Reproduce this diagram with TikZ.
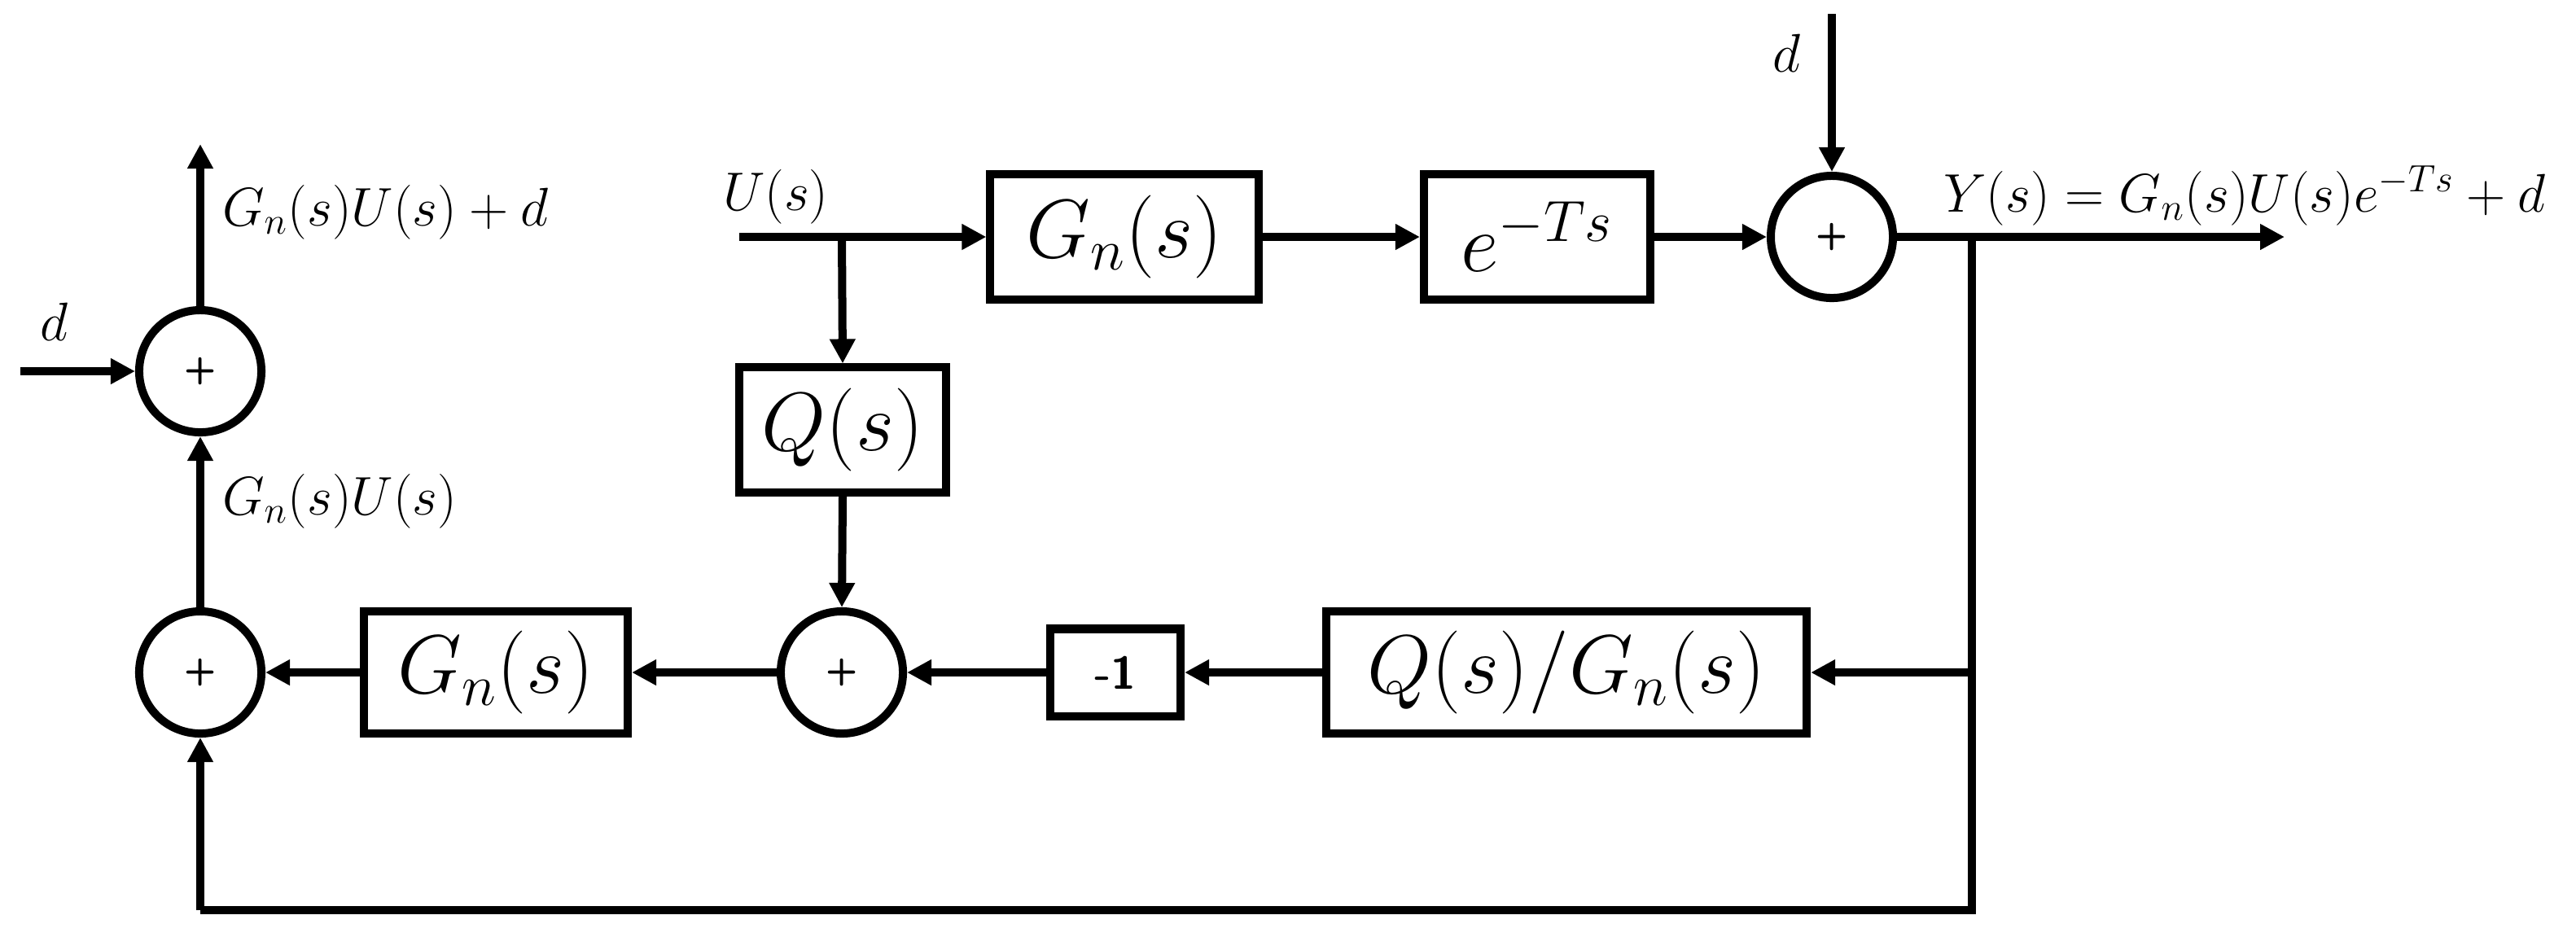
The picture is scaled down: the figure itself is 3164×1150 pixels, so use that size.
\RequirePackage{fix-cm}
\documentclass[tikz,border=0pt]{standalone}
\usetikzlibrary{arrows.meta}
\begin{document}
\begin{tikzpicture}[x=0.01cm,y=-0.01cm, line width=0.1cm,
  box/.style={draw, rectangle, inner sep=0pt, font=\fontsize{29}{34}\selectfont},
  sumnode/.style={draw, circle, minimum size=1.5cm, inner sep=0pt, font=\sffamily\bfseries\fontsize{13}{15}\selectfont},
  lbl/.style={inner sep=0pt, font=\fontsize{19}{23}\selectfont},
  sig/.style={-{Triangle[length=0.3cm,width=0.3cm]}}]
\useasboundingbox (0,0) rectangle (3164,1150);

% blocks
\node[box, minimum width=3.29cm, minimum height=1.53cm] (topG) at (1381,291) {$G_n(s)$};
\node[box, minimum width=2.78cm, minimum height=1.53cm] (eTs) at (1888,291) {$e^{-Ts}$};
\node[box, minimum width=2.53cm, minimum height=1.53cm] (Q) at (1035,528) {$Q(s)$};
\node[box, minimum width=3.24cm, minimum height=1.50cm] (botG) at (609,826) {$G_n(s)$};
\node[box, minimum width=1.60cm, minimum height=1.07cm, font=\sffamily\bfseries\fontsize{16}{18}\selectfont] (m1) at (1370,826) {-1};
\node[box, minimum width=5.90cm, minimum height=1.50cm] (QG) at (1924,826) {$Q(s)/G_n(s)$};

% summing junctions
\node[sumnode] (S1) at (246,456) {+};
\node[sumnode] (S2) at (246,826) {+};
\node[sumnode] (Sm) at (1034,826) {+};
\node[sumnode] (S3) at (2250,291) {+};

% labels
\node[lbl, anchor=base west] (lA) at (268,277) {$G_n(s)U(s)+d$};
\node[lbl, anchor=base west] (lB) at (268,632) {$G_n(s)U(s)$};
\node[lbl, anchor=base] (ld1) at (66,418) {$d$};
\node[lbl, anchor=base west] (ld2) at (2172,88) {$d$};
\node[lbl, anchor=base west] (lU) at (883,258) {$U(s)$};
\node[lbl, anchor=base west] (lY) at (2382,260) {$Y(s)=G_n(s)U(s)e^{-Ts}+d$};

% free ends and branch points
\coordinate (uin) at (908,291);
\coordinate (ubr) at (1034,291);
\coordinate (din) at (2250,17);
\coordinate (yout) at (2806,291);
\coordinate (ybr) at (2422,291);
\coordinate (yfb) at (2422,826);
\coordinate (ybot) at (2422,1118);
\coordinate (lbot) at (246,1118);
\coordinate (outL) at (246,177);
\coordinate (dinL) at (25,456);

% connectors
\draw[sig] (uin) -- (topG.west);
\draw[sig] (ubr) -- (Q.north);
\draw[sig] (topG.east) -- (eTs.west);
\draw[sig] (eTs.east) -- (S3.west);
\draw[sig] (din) -- (S3.north);
\draw[sig] (S3.east) -- (yout);
\draw (ybr) -- (ybot) -- (lbot);
\draw[sig] (lbot) -- (S2.south);
\draw[sig] (yfb) -- (QG.east);
\draw[sig] (QG.west) -- (m1.east);
\draw[sig] (m1.west) -- (Sm.east);
\draw[sig] (Q.south) -- (Sm.north);
\draw[sig] (Sm.west) -- (botG.east);
\draw[sig] (botG.west) -- (S2.east);
\draw[sig] (S2.north) -- (S1.south);
\draw[sig] (S1.north) -- (outL);
\draw[sig] (dinL) -- (S1.west);
\end{tikzpicture}
\end{document}
